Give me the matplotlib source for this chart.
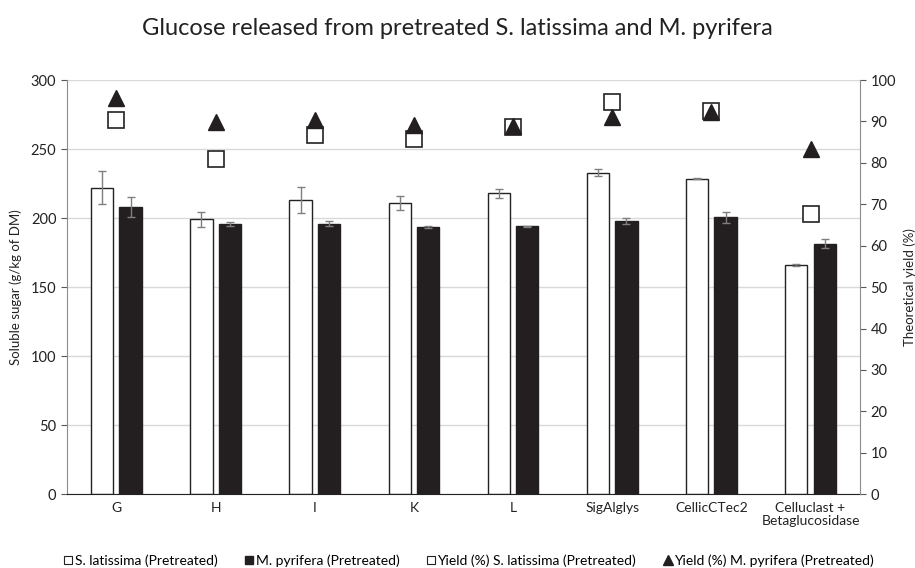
import numpy as np
import matplotlib
matplotlib.use('Agg')
import matplotlib.pyplot as plt
from matplotlib.lines import Line2D

plt.rcParams['font.family'] = ['Lato', 'DejaVu Sans']

categories = ['G', 'H', 'I', 'K', 'L', 'SigAlglys', 'CellicCTec2', 'Celluclast +\nBetaglucosidase']

# soluble sugar, g/kg of DM
sugar_lat = [222, 199, 213, 211, 218, 233, 228.5, 166]
sugar_lat_err = [12, 5.5, 9.5, 5, 3.3, 2.8, 0.4, 0.4]
sugar_pyr = [208, 195.5, 196, 193.5, 194, 198, 200.5, 181.5]
sugar_pyr_err = [7.5, 1.5, 2, 1, 0.5, 2, 4, 3.5]

# theoretical yield, %
yield_lat = [90.4, 80.9, 86.7, 85.8, 88.6, 94.8, 92.6, 67.6]
yield_pyr = [95.7, 89.9, 90.3, 89.2, 89.0, 91.1, 92.3, 83.4]

x = np.arange(len(categories))
w = 0.225
off = 0.143

fig, ax = plt.subplots(figsize=(9.15, 5.68), dpi=100)
fig.subplots_adjust(left=0.073, right=0.94, top=0.859, bottom=0.13)

ax.set_axisbelow(True)
ax.yaxis.grid(True, color='#d9d9d9', lw=1)

ax.bar(x - off, sugar_lat, w, color='white', edgecolor='#222222', lw=1, zorder=2)
ax.bar(x + off, sugar_pyr, w, color='#231f20', edgecolor='#231f20', lw=1, zorder=2)
ax.errorbar(x - off, sugar_lat, yerr=sugar_lat_err, fmt='none', ecolor='#7f7f7f',
            elinewidth=1, capsize=3, capthick=1, zorder=3)
ax.errorbar(x + off, sugar_pyr, yerr=sugar_pyr_err, fmt='none', ecolor='#7f7f7f',
            elinewidth=1, capsize=3, capthick=1, zorder=3)

ax.set_ylim(0, 300)
ax.set_yticks(range(0, 301, 50))
ax.set_xlim(-0.5, len(categories) - 0.5)
ax.set_xticks(x)
ax.set_xticklabels(categories, fontsize=10, color='#222222', linespacing=1.1)
ax.tick_params(axis='x', length=0, pad=6)
ax.tick_params(axis='y', labelsize=10.5, color='#595959', labelcolor='#222222', length=4)
ax.set_ylabel('Soluble sugar (g/kg of DM)', fontsize=9.5, color='#222222', labelpad=6)
for s in ['top', 'right']:
    ax.spines[s].set_visible(False)
ax.spines['left'].set_color('#8c8c8c')
ax.spines['bottom'].set_color('#222222')

ax2 = ax.twinx()
ax2.plot(x, yield_lat, ls='none', marker='s', ms=11, mfc='white', mec='#222222', mew=1.2, zorder=4)
ax2.plot(x, yield_pyr, ls='none', marker='^', ms=12, mfc='#231f20', mec='#231f20', zorder=5)
ax2.set_ylim(0, 100)
ax2.set_yticks(range(0, 101, 10))
ax2.tick_params(axis='y', labelsize=10.5, color='#595959', labelcolor='#222222', length=4)
ax2.set_ylabel('Theoretical yield (%)', fontsize=9.5, color='#222222', labelpad=5)
for s in ['top', 'left', 'bottom']:
    ax2.spines[s].set_visible(False)
ax2.spines['right'].set_color('#8c8c8c')

fig.suptitle('Glucose released from pretreated S. latissima and M. pyrifera',
             fontsize=17, color='#222222', y=0.968)

handles = [
    Line2D([], [], ls='none', marker='s', ms=6, mfc='white', mec='#222222', mew=0.8),
    Line2D([], [], ls='none', marker='s', ms=6, mfc='#231f20', mec='#231f20'),
    Line2D([], [], ls='none', marker='s', ms=6, mfc='white', mec='#222222', mew=0.8),
    Line2D([], [], ls='none', marker='^', ms=6.5, mfc='#231f20', mec='#231f20'),
]
labels = ['S. latissima (Pretreated)', 'M. pyrifera (Pretreated)',
          'Yield (%) S. latissima (Pretreated)', 'Yield (%) M. pyrifera (Pretreated)']
fig.legend(handles, labels, loc='lower center', bbox_to_anchor=(0.512, -0.02), ncol=4,
           frameon=False, fontsize=10, handletextpad=0.05, columnspacing=1.9,
           handlelength=0.8)

fig.savefig('out.png', dpi=100)
